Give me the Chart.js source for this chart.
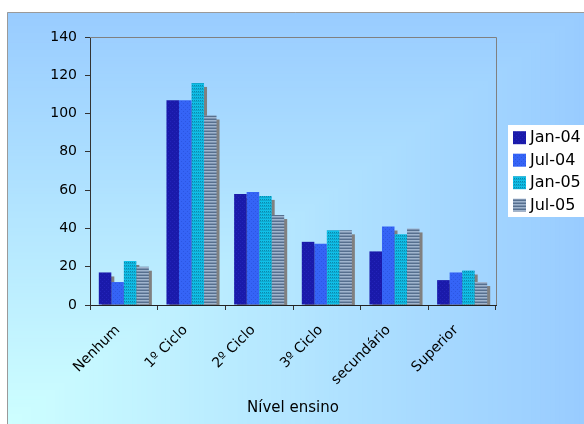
<!DOCTYPE html>
<html>
<head>
<meta charset="utf-8">
<script src="https://cdn.jsdelivr.net/npm/chart.js@4"></script>
<style>
  html, body { margin: 0; padding: 0; background: #fff; }
  #wrap { width: 584px; height: 424px; position: relative; }
  canvas { display: block; }
</style>
</head>
<body>
<div id="wrap"><canvas id="c" width="584" height="424"></canvas></div>
<script>
// Education level categories and the four survey dates
const categories = ['Nenhum', '1º Ciclo', '2º Ciclo', '3º Ciclo', 'secundário', 'Superior'];
const seriesLabels = ['Jan-04', 'Jul-04', 'Jan-05', 'Jul-05'];
const jan04 = [17, 107, 58, 33, 28, 13];
const jul04 = [12, 107, 59, 32, 41, 17];
const jan05 = [23, 116, 57, 39, 37, 18];
const jul05 = [20, 99, 47, 39, 40, 12];
const yTicks = [0, 20, 40, 60, 80, 100, 120, 140];
const xAxisTitle = 'Nível ensino';

Chart.defaults.font.family = "'DejaVu Sans', Verdana, sans-serif";
Chart.defaults.color = '#000';

// Small pixel tiles used as bar fills
function tile(rows) {
  const h = rows.length, w = rows[0].length;
  const cv = document.createElement('canvas');
  cv.width = w; cv.height = h;
  const g = cv.getContext('2d');
  for (let y = 0; y < h; y++) {
    for (let x = 0; x < w; x++) {
      g.fillStyle = rows[y][x];
      g.fillRect(x, y, 1, 1);
    }
  }
  return document.getElementById('c').getContext('2d').createPattern(cv, 'repeat');
}

const A = '#1a1aaa', a = '#2323b9';
const B = '#3564f6', b = '#2c56e2';
const C = '#10bfe8', c = '#0a88ab', c2 = '#0ea8cf';
const D = '#9fb4cd', d = '#7d93b0', d2 = '#566f8e';

const fills = [
  tile([[A, A, A, A], [A, A, a, A], [A, A, A, A], [a, A, A, A]]),
  tile([[B, B, B, B], [B, b, B, B], [B, B, B, B], [B, B, B, b]]),
  tile([[C, C, C, C], [c, C, c, C], [c2, c2, c2, c2]]),
  tile([[D], [d], [d2]])
];

const seriesValues = [jan04, jul04, jan05, jul05];

// Page background: white with a corner gradient panel
const backdrop = {
  id: 'backdrop',
  beforeDraw(chart) {
    const ctx = chart.ctx;
    ctx.save();
    ctx.fillStyle = '#fff';
    ctx.fillRect(0, 0, chart.width, chart.height);
    const x0 = 7, y0 = 12, W = chart.width - x0, H = chart.height - y0;
    const c0 = [206, 255, 255], c1 = [153, 204, 255];
    const N = 120;
    for (let i = N; i >= 1; i--) {
      const t = i / N;
      const r = Math.round(c0[0] + (c1[0] - c0[0]) * t);
      const g = Math.round(c0[1] + (c1[1] - c0[1]) * t);
      const bl = Math.round(c0[2] + (c1[2] - c0[2]) * t);
      ctx.fillStyle = `rgb(${r},${g},${bl})`;
      ctx.fillRect(x0, chart.height - t * H, t * W, t * H);
    }
    ctx.strokeStyle = '#9a9a9a';
    ctx.lineWidth = 1;
    ctx.beginPath();
    ctx.moveTo(x0 + 0.5, chart.height);
    ctx.lineTo(x0 + 0.5, y0 + 0.5);
    ctx.lineTo(chart.width, y0 + 0.5);
    ctx.stroke();
    ctx.restore();
  },
  beforeDatasetsDraw(chart) {
    const ctx = chart.ctx, ca = chart.chartArea;
    ctx.save();
    ctx.strokeStyle = '#808080';
    ctx.lineWidth = 1;
    ctx.beginPath();
    ctx.moveTo(ca.left, Math.round(ca.top) + 0.5);
    ctx.lineTo(Math.round(ca.right) + 0.5, Math.round(ca.top) + 0.5);
    ctx.lineTo(Math.round(ca.right) + 0.5, ca.bottom);
    ctx.stroke();
    // solid grey drop shadow behind every bar, taken from the bar elements
    ctx.beginPath();
    ctx.rect(ca.left, ca.top, ca.right - ca.left, ca.bottom - ca.top);
    ctx.clip();
    ctx.fillStyle = '#808080';
    chart.data.datasets.forEach((ds, i) => {
      chart.getDatasetMeta(i).data.forEach(el => {
        const p = el.getProps(['x', 'y', 'base', 'width'], true);
        ctx.fillRect(p.x - p.width / 2 + 3, p.y + 4, p.width, p.base - p.y);
      });
    });
    ctx.restore();
  }
};

// Boxed legend on the right and the category axis title
const sideLegend = {
  id: 'sideLegend',
  afterDraw(chart) {
    const ctx = chart.ctx, ca = chart.chartArea;
    ctx.save();
    ctx.fillStyle = '#fff';
    ctx.fillRect(508, 125, chart.width - 508, 92);
    ctx.font = "16px 'DejaVu Sans'";
    ctx.textBaseline = 'middle';
    ctx.textAlign = 'left';
    chart.data.datasets.forEach((ds, i) => {
      const cy = 137.7 + i * 22.5;
      ctx.fillStyle = ds.backgroundColor;
      ctx.fillRect(513, cy - 6.5, 13, 13);
      ctx.fillStyle = '#000';
      ctx.fillText(ds.label, 530, cy + 0.5);
    });
    ctx.font = "15px 'DejaVu Sans'";
    ctx.textAlign = 'center';
    ctx.fillText(xAxisTitle, (ca.left + ca.right) / 2, 408);
    ctx.restore();
  }
};

new Chart(document.getElementById('c'), {
  type: 'bar',
  data: {
    labels: categories,
    datasets: seriesLabels.map((lab, i) => ({
      label: lab,
      data: seriesValues[i],
      backgroundColor: fills[i],
      borderWidth: 0,
      categoryPercentage: 0.74,
      barPercentage: 1.0
    }))
  },
  options: {
    responsive: false,
    animation: false,
    devicePixelRatio: 1,
    layout: { padding: { left: 0, top: 37, right: 88, bottom: 39 } },
    plugins: {
      legend: { display: false },
      tooltip: { enabled: false }
    },
    scales: {
      x: {
        z: 1,
        grid: { offset: true, drawOnChartArea: false, tickLength: 5, color: '#333' },
        border: { color: '#222', width: 1 },
        ticks: { font: { size: 14 }, color: '#000', minRotation: 45, maxRotation: 45, padding: 12, labelOffset: -6 },
        afterFit(s) { s.height = 80; s.paddingLeft = 0; s.paddingRight = 0; }
      },
      y: {
        z: 1,
        min: 0,
        max: 140,
        afterBuildTicks(s) { s.ticks = yTicks.map(v => ({ value: v })); },
        grid: { drawOnChartArea: false, tickLength: 5, color: '#333' },
        border: { color: '#333', width: 1 },
        ticks: { font: { size: 14 }, color: '#000', padding: 8 },
        afterFit(s) { s.width = 90; s.paddingTop = 0; s.paddingBottom = 0; }
      }
    }
  },
  plugins: [backdrop, sideLegend]
});
</script>
</body>
</html>
